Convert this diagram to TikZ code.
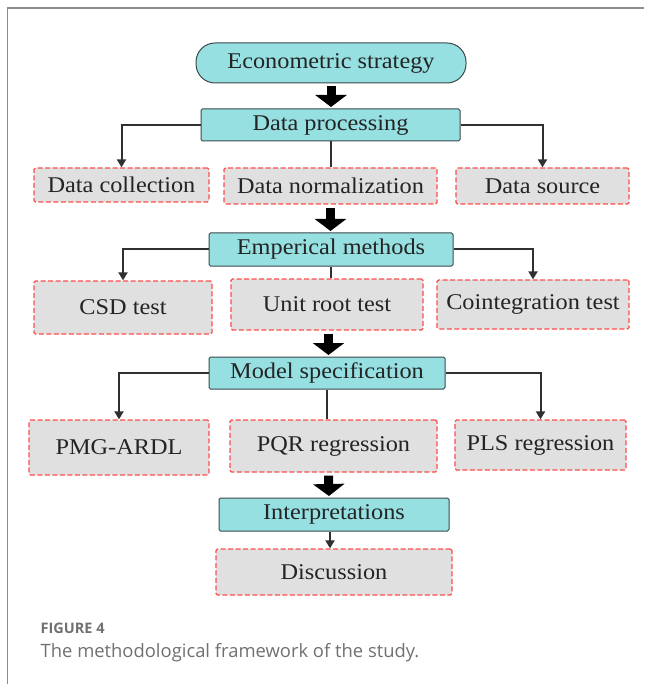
\documentclass[tikz,border=0pt]{standalone}
\usepackage{fontspec}
\setmainfont{Liberation Serif}[FakeStretch=1.08]
\newfontfamily\capfont{Open Sans}
\usepackage{xcolor}
\usepackage{tikz}
\usetikzlibrary{shapes,arrows.meta,positioning,calc}
\definecolor{econteal}{RGB}{150,224,226}
\definecolor{econedge}{RGB}{60,72,74}
\definecolor{econred}{RGB}{255,76,76}
\definecolor{econgrey}{RGB}{224,224,224}
\definecolor{econtext}{RGB}{36,36,36}
\definecolor{econline}{RGB}{48,48,48}
\definecolor{framegray}{RGB}{140,140,140}
\definecolor{capgray}{RGB}{112,112,112}
\tikzset{
    block/.style={rectangle, draw=econedge, fill=econteal, line width=1pt, rounded corners=1.5pt, text=econtext, font=\fontsize{22.5}{27}\selectfont, inner sep=0pt},
    term/.style={block, rounded corners=19pt},
    dashbox/.style={rectangle, draw=econred, fill=econgrey, line width=1.3pt, rounded corners=1.5pt, dash pattern=on 5pt off 2.5pt, text=econtext, font=\fontsize{22.5}{27}\selectfont, inner sep=0pt},
    line/.style={draw=econline, line width=2pt, -{Triangle[length=8pt,width=9pt]}},
    plain/.style={draw=econline, line width=2pt},
    fat/.style={draw=black, line width=9pt, -{Triangle[length=12pt,width=31pt]}, shorten <=3pt, shorten >=1.5pt}
}
\begin{document}
\begin{tikzpicture}[x=1pt, y=-1pt]
    \useasboundingbox (0,0) rectangle (644,684);
    % Frame
    \draw [framegray, line width=1.5pt] (7.5,684) -- (7.5,8) -- (644,8);

    % Main steps
    \node [term, minimum width=270pt, minimum height=40pt] (strategy) at (331,63) {Econometric strategy};
    \node [block, minimum width=259pt, minimum height=32pt] (process) at (330.5,125) {Data processing};
    \node [block, minimum width=244pt, minimum height=33pt] (empirical) at (331,249.5) {Emperical methods};
    \node [block, minimum width=236pt, minimum height=32pt] (model) at (327,373) {Model specification};
    \node [block, minimum width=230pt, minimum height=33pt] (interp) at (334,514.5) {Interpretations};

    % Data steps
    \node [dashbox, minimum width=175pt, minimum height=34pt] (collect) at (121.5,185) {Data collection};
    \node [dashbox, minimum width=213pt, minimum height=36pt] (normal) at (330.5,186) {Data normalization};
    \node [dashbox, minimum width=173pt, minimum height=36pt] (source) at (542.5,186) {Data source};

    % Tests
    \node [dashbox, minimum width=178pt, minimum height=53pt] (csd) at (123,307.5) {CSD test};
    \node [dashbox, minimum width=192pt, minimum height=51pt] (unitroot) at (327,304.5) {Unit root test};
    \node [dashbox, minimum width=192pt, minimum height=49pt] (coint) at (533,304.5) {Cointegration test};

    % Models
    \node [dashbox, minimum width=180pt, minimum height=55pt] (pmg) at (119,447.5) {PMG-ARDL};
    \node [dashbox, minimum width=207pt, minimum height=52pt] (pqr) at (333.5,446) {PQR regression};
    \node [dashbox, minimum width=171pt, minimum height=50pt] (pls) at (540.5,445) {PLS regression};

    \node [dashbox, minimum width=236pt, minimum height=46pt] (discuss) at (334,572) {Discussion};

    % Caption
    \node [anchor=base west, inner sep=0pt, text=capgray, font=\capfont\bfseries\fontsize{14.5}{16}\selectfont] (figlabel) at (40.5,633) {FIGURE 4};
    \node [anchor=base west, inner sep=0pt, text=capgray, font=\capfont\fontsize{18.4}{22}\selectfont] (figcaption) at (40.5,657) {The methodological framework of the study.};

    % Connections
    \path [fat] (strategy.south) -- (strategy.south |- process.north);
    \path [fat] (normal.south) -- (normal.south |- empirical.north);
    \path [fat] ([xshift=1.5pt]unitroot.south) -- ([xshift=1.5pt]model.north);
    \path [fat] ([xshift=-5pt]pqr.south) -- ([xshift=-5pt]interp.north);

    \path [line] (process.west) -| (collect.north);
    \path [line] (process.east) -| (source.north);
    \path [plain] (process.south) -- (process.south |- normal.north);

    \path [line] (empirical.west) -| (csd.north);
    \path [line] (empirical.east) -| (coint.north);
    \path [plain] (empirical.south) -- (empirical.south |- unitroot.north);

    \path [line] (model.west) -| (pmg.north);
    \path [line] (model.east) -| (pls.north);
    \path [plain] (model.south) -- (model.south |- pqr.north);

    \path [line] ([xshift=-4pt]interp.south) -- ([xshift=-4pt]discuss.north);
\end{tikzpicture}
\end{document}
